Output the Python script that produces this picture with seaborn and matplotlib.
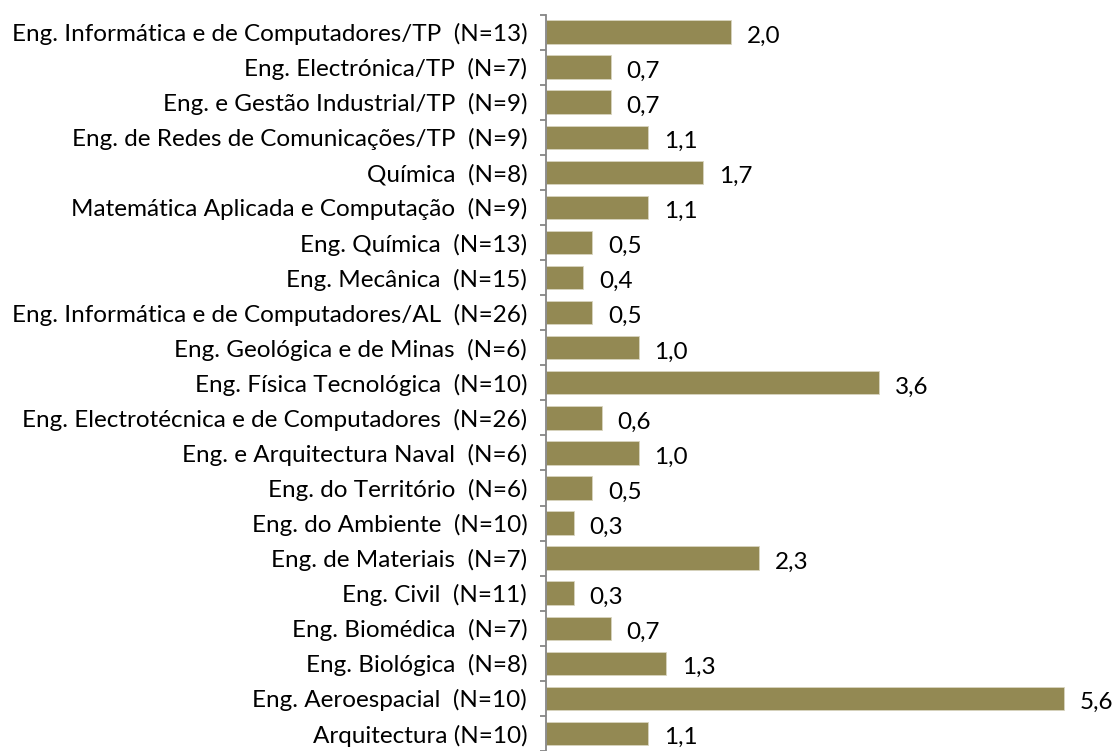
import matplotlib
matplotlib.use("Agg")
import matplotlib.pyplot as plt
import numpy as np
import pandas as pd
import seaborn as sns

# categorias (de cima para baixo) e valores
cursos = [
    "Eng. Informática e de Computadores/TP  (N=13)",
    "Eng. Electrónica/TP  (N=7)",
    "Eng. e Gestão Industrial/TP  (N=9)",
    "Eng. de Redes de Comunicações/TP  (N=9)",
    "Química  (N=8)",
    "Matemática Aplicada e Computação  (N=9)",
    "Eng. Química  (N=13)",
    "Eng. Mecânica  (N=15)",
    "Eng. Informática e de Computadores/AL  (N=26)",
    "Eng. Geológica e de Minas  (N=6)",
    "Eng. Física Tecnológica  (N=10)",
    "Eng. Electrotécnica e de Computadores  (N=26)",
    "Eng. e Arquitectura Naval  (N=6)",
    "Eng. do Território  (N=6)",
    "Eng. do Ambiente  (N=10)",
    "Eng. de Materiais  (N=7)",
    "Eng. Civil  (N=11)",
    "Eng. Biomédica  (N=7)",
    "Eng. Biológica  (N=8)",
    "Eng. Aeroespacial  (N=10)",
    "Arquitectura (N=10)",
]
valores = [2.0, 0.7, 0.7, 1.1, 1.7, 1.1, 0.5, 0.4, 0.5, 1.0, 3.6,
           0.6, 1.0, 0.5, 0.3, 2.3, 0.3, 0.7, 1.3, 5.6, 1.1]

df = pd.DataFrame({"curso": cursos, "valor": valores})

sns.set_style("white")
plt.rcParams["font.family"] = ["Lato", "DejaVu Sans"]

fig = plt.figure(figsize=(11.13, 7.51), dpi=100)
ax = fig.add_axes([546 / 1113, 0.0, 555 / 1113, 1 - 14.5 / 751])

sns.barplot(data=df, x="valor", y="curso", order=cursos, color="#938953",
            saturation=1, width=0.67, edgecolor="#d8d4bf", linewidth=0.6, ax=ax)

ax.set_xlim(0, 6)
ax.set_ylim(20.34, -0.5)
ax.set_xlabel("")
ax.set_ylabel("")
ax.set_xticks([])

for s in ["top", "right", "bottom"]:
    ax.spines[s].set_visible(False)
ax.spines["left"].set_color("#868686")
ax.spines["left"].set_linewidth(1.3)

# ticks nas fronteiras das categorias
ax.set_yticks(np.arange(len(cursos)))
ax.set_yticklabels(cursos, fontsize=17.5, color="black")
ax.tick_params(axis="y", which="major", length=0, pad=13.5)
ax.set_yticks(np.arange(len(cursos) + 1) - 0.5, minor=True)
ax.tick_params(axis="y", which="minor", length=4.5, width=1.3,
               color="#868686", direction="out", left=True)

for i, v in enumerate(valores):
    ax.annotate(f"{v:.1f}".replace(".", ","), xy=(v, i), xytext=(11.5, -3),
                textcoords="offset points", ha="left", va="center",
                fontsize=17.5, color="black", annotation_clip=False)

fig.savefig("out.png", dpi=100, facecolor="white")
